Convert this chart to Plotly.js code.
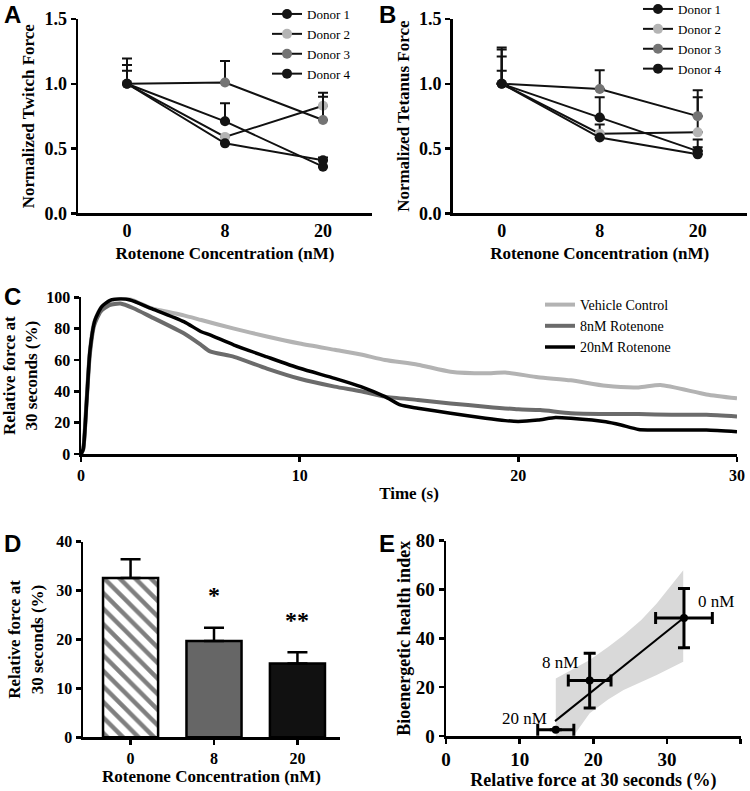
<!DOCTYPE html>
<html>
<head>
<meta charset="utf-8">
<script src="https://cdn.plot.ly/plotly-3.0.1.min.js"></script>
<style>
  body { margin: 0; background: #fff; }
  #fig { width: 750px; height: 791px; }
</style>
</head>
<body>
<div id="fig"></div>
<script>
// A + B: force per donor, normalised to the 0 nM value
var concLabels = ['0', '8', '20'];
var donors = ['Donor 1', 'Donor 2', 'Donor 3', 'Donor 4'];
var donorColors = ['#141414', '#b4b4b4', '#747474', '#141414'];
var twitch = [[1, 0.71, 0.36], [1, 0.59, 0.83], [1, 1.01, 0.72], [1, 0.54, 0.41]];
var twitchErr = [[0.145, 0.14, 0], [0.195, 0, 0.10], [0.10, 0.165, 0.18], [0, 0, 0.02]];
var tetanus = [[1, 0.74, 0.48], [1, 0.615, 0.625], [1, 0.96, 0.75], [1, 0.585, 0.455]];
var tetanusErr = [[0.21, 0.155, 0.09], [0.265, 0.07, 0.27], [0.28, 0.145, 0.20], [0.10, 0, 0.055]];

// C: fatigue traces (relative force, %)
var vehT = [0, 0.1, 0.25, 0.4, 0.6, 0.9, 1.3, 1.8, 2.3, 3.2, 4.7, 5.5, 7.0, 8.5, 10.0, 11.6, 12.8, 13.9, 15.4, 16.9, 18.5, 19.4, 20.9, 22.4, 24.0, 25.5, 26.5, 28.6, 30.0];
var vehF = [0, 3, 33, 65, 84, 93, 97.5, 99, 98.5, 93, 88.5, 85.5, 80, 75, 70.5, 66.5, 63.5, 60, 57, 52.5, 51.5, 52, 49, 47, 43.5, 42.5, 44, 38, 35.5];
var rot8T = [0, 0.1, 0.25, 0.4, 0.6, 0.9, 1.3, 1.8, 2.4, 3.2, 4.7, 5.5, 5.9, 7.0, 8.5, 10.0, 11.6, 12.8, 13.9, 15.4, 16.9, 18.5, 20.0, 21.0, 22.4, 24.0, 25.5, 27.0, 28.6, 30.0];
var rot8F = [0, 3, 32, 63, 82, 91, 95, 96, 93, 87.5, 77, 69.5, 65.5, 62, 54.5, 48, 43, 40, 36.6, 34.5, 32.3, 30.2, 28.5, 28, 26, 25.5, 25.5, 25, 25, 24];
var rot20T = [0, 0.1, 0.26, 0.41, 0.64, 0.95, 1.33, 1.79, 2.25, 3.2, 4.7, 5.5, 5.9, 7.0, 8.5, 10.0, 11.6, 12.8, 13.9, 14.6, 15.4, 16.9, 18.5, 19.4, 20.0, 20.9, 21.7, 22.4, 24.0, 24.7, 25.5, 27.0, 28.6, 30.0];
var rot20F = [0, 3, 34, 66, 85.5, 94, 98, 99, 98.3, 93, 84.5, 78, 76, 69.5, 62, 54.7, 48.3, 43, 36.6, 31.3, 29.2, 26, 22.8, 21.3, 20.8, 21.7, 23.3, 22.8, 20.6, 18.5, 15.7, 15.3, 15.3, 14.2];

// D: relative force at 30 s
var barMeans = [32.6, 19.7, 15.1];
var barSem = [3.8, 2.7, 2.3];
var barColors = ['#ffffff', '#666666', '#111111'];
var barStars = ['', '*', '**'];
var starY = [0, 29, 24];

// E: bioenergetic health index vs relative force
var eLabels = ['0 nM', '8 nM', '20 nM'];
var eForce = [32.3, 19.5, 14.9];
var eForceErr = [3.85, 2.9, 2.45];
var eBhi = [48.3, 22.7, 2.6];
var eBhiErr = [12.1, 11.2, 0];
var fitX = [14.8, 32.2];
var fitY = [6.1, 48.2];
var bandX = [14.9, 17.3, 19.5, 22.0, 24.1, 26.5, 28.6, 32.2];
var bandUp = [23.6, 27.4, 31.1, 36.5, 41.3, 47.5, 54.3, 67.9];
var bandLo = [-1, 0, 9.3, 15, 18.8, 22.2, 25.0, 30.4];

var W = 750, H = 791;
var SERIF = 'Liberation Serif, Times New Roman, serif';
function xd(l, r) { return [l / W, r / W]; }
function yd(top, bottom) { return [1 - bottom / H, 1 - top / H]; }

function axis(extra, tickSize) {
  var a = {
    showline: true, linecolor: '#000', linewidth: 2.5,
    ticks: 'outside', ticklen: 5, tickwidth: 2.5, tickcolor: '#000',
    showgrid: false, zeroline: false, fixedrange: true,
    tickfont: { family: SERIF, size: tickSize || 18, weight: 'bold', color: '#000' }
  };
  return Object.assign(a, extra);
}
function ttl(text, size, standoff) {
  return { text: text, font: { family: SERIF, size: size, weight: 'bold', color: '#000' }, standoff: standoff };
}

var traces = [];

function donorTraces(vals, errs, xa, ya, leg) {
  donors.forEach(function (name, i) {
    traces.push({
      type: 'scatter', mode: 'lines+markers', name: name,
      x: [0, 1, 2], y: vals[i], xaxis: xa, yaxis: ya, legend: leg,
      line: { color: '#111', width: 2 },
      marker: { color: donorColors[i], size: 10 },
      error_y: { type: 'data', symmetric: false, array: errs[i], arrayminus: [0, 0, 0], color: '#111', thickness: 2, width: 5 },
      cliponaxis: false, hoverinfo: 'skip'
    });
  });
}
donorTraces(twitch, twitchErr, 'x', 'y', 'legend');
donorTraces(tetanus, tetanusErr, 'x2', 'y2', 'legend2');

[['Vehicle Control', vehT, vehF, '#b3b3b3', 4],
 ['8nM Rotenone', rot8T, rot8F, '#6b6b6b', 4],
 ['20nM Rotenone', rot20T, rot20F, '#000000', 3.5]].forEach(function (s) {
  traces.push({
    type: 'scatter', mode: 'lines', name: s[0], x: s[1], y: s[2],
    xaxis: 'x3', yaxis: 'y3', legend: 'legend3',
    line: { color: s[3], width: s[4], shape: 'spline', smoothing: 0.6 },
    hoverinfo: 'skip'
  });
});

// one bar trace per concentration so the hatch applies to the vehicle bar only
barMeans.forEach(function (m, i) {
  var marker = { color: barColors[i], line: { color: '#000', width: 2.5 } };
  if (i === 0) marker.pattern = { shape: '\\', fgcolor: '#000', bgcolor: '#ffffff', size: 11, solidity: 0.4, fillmode: 'overlay' };
  traces.push({
    type: 'bar', x: [i], y: [m], xaxis: 'x4', yaxis: 'y4', width: 0.66,
    showlegend: false, marker: marker,
    error_y: { type: 'data', symmetric: false, array: [barSem[i]], arrayminus: [0], color: '#000', thickness: 2.5, width: 10 },
    hoverinfo: 'skip'
  });
});

traces.push({
  type: 'scatter', mode: 'lines', xaxis: 'x5', yaxis: 'y5', showlegend: false,
  x: bandX.concat(bandX.slice().reverse()),
  y: bandUp.concat(bandLo.slice().reverse()),
  fill: 'toself', fillcolor: '#d9d9d9', line: { width: 0 }, hoverinfo: 'skip'
});
traces.push({
  type: 'scatter', mode: 'lines', x: fitX, y: fitY, xaxis: 'x5', yaxis: 'y5',
  showlegend: false, line: { color: '#000', width: 2 }, hoverinfo: 'skip'
});
traces.push({
  type: 'scatter', mode: 'markers', x: eForce, y: eBhi, xaxis: 'x5', yaxis: 'y5',
  showlegend: false, marker: { color: '#000', size: 8 },
  error_x: { type: 'data', array: eForceErr, color: '#000', thickness: 3, width: 6 },
  error_y: { type: 'data', array: eBhiErr, color: '#000', thickness: 3, width: 6 },
  cliponaxis: false, hoverinfo: 'skip'
});

var catAxis = { range: [-0.5, 2.5], tickvals: [0, 1, 2], ticktext: concLabels, ticks: '' };

var annotations = [
  { text: 'A', x: 12 / W, y: 1 - 15 / H },
  { text: 'B', x: 387 / W, y: 1 - 14 / H },
  { text: 'C', x: 12 / W, y: 1 - 297 / H },
  { text: 'D', x: 12 / W, y: 1 - 543 / H },
  { text: 'E', x: 387 / W, y: 1 - 543 / H }
].map(function (a) {
  return Object.assign(a, { xref: 'paper', yref: 'paper', showarrow: false, xanchor: 'center', yanchor: 'middle',
    font: { family: 'Liberation Sans, Arial, sans-serif', size: 24, weight: 'bold', color: '#000' } });
});
barStars.forEach(function (s, i) {
  if (!s) return;
  annotations.push({ text: s, x: i, y: starY[i], xref: 'x4', yref: 'y4', showarrow: false,
    font: { family: SERIF, size: 24, weight: 'bold', color: '#000' } });
});
var eLabelPos = [[36.6, 55], [15.5, 30], [10.7, 7]];
eLabels.forEach(function (t, i) {
  annotations.push({ text: t, x: eLabelPos[i][0], y: eLabelPos[i][1], xref: 'x5', yref: 'y5', showarrow: false,
    font: { family: SERIF, size: 17, color: '#000' } });
});

function leg(xpx, ypx, size) {
  return { x: xpx / W, y: 1 - ypx / H, xanchor: 'left', yanchor: 'top',
    font: { family: SERIF, size: size, color: '#000' },
    bgcolor: 'rgba(0,0,0,0)', tracegroupgap: 0 };
}

var layout = {
  width: W, height: H,
  margin: { l: 0, r: 0, t: 0, b: 0, autoexpand: false },
  paper_bgcolor: '#fff', plot_bgcolor: 'rgba(0,0,0,0)',
  showlegend: true,
  xaxis: axis(Object.assign({ domain: xd(78, 372), anchor: 'y', title: ttl('Rotenone Concentration (nM)', 17, 7) }, catAxis)),
  yaxis: axis({ domain: yd(19, 213.3), anchor: 'x', range: [0, 1.5], tickvals: [0, 0.5, 1, 1.5], tickformat: '.1f',
    title: ttl('Normalized Twitch Force', 17, 6) }),
  xaxis2: axis(Object.assign({ domain: xd(452.7, 746.7), anchor: 'y2', title: ttl('Rotenone Concentration (nM)', 17, 7) }, catAxis)),
  yaxis2: axis({ domain: yd(19, 213.3), anchor: 'x2', range: [0, 1.5], tickvals: [0, 0.5, 1, 1.5], tickformat: '.1f',
    title: ttl('Normalized Tetanus Force', 17, 5) }),
  xaxis3: axis({ domain: xd(81, 737), anchor: 'y3', range: [0, 30], tickvals: [0, 10, 20, 30], title: ttl('Time (s)', 17, 5) }, 16),
  yaxis3: axis({ domain: yd(297.3, 454), anchor: 'x3', range: [0, 100], tickvals: [0, 20, 40, 60, 80, 100],
    title: ttl('Relative force at<br>30 seconds (%)', 17, 9) }, 16),
  xaxis4: axis({ domain: xd(83, 340), anchor: 'y4', range: [-0.57, 2.51], tickvals: [0, 1, 2], ticktext: concLabels,
    title: ttl('Rotenone Concentration (nM)', 17, 1) }, 16),
  yaxis4: axis({ domain: yd(541.7, 737.3), anchor: 'x4', range: [0, 40], tickvals: [0, 10, 20, 30, 40],
    title: ttl('Relative force at<br>30 seconds (%)', 17, 9) }, 16),
  xaxis5: axis({ domain: xd(446, 740.7), anchor: 'y5', range: [0, 40], tickvals: [0, 10, 20, 30, 40],
    title: ttl('Relative force at 30 seconds (%)', 18, 3) }, 19),
  yaxis5: axis({ domain: yd(540.7, 736), anchor: 'x5', range: [0, 80], tickvals: [0, 20, 40, 60, 80],
    title: ttl('Bioenergetic health index', 18, 1) }, 19),
  legend: leg(267, -1, 13),
  legend2: leg(638, -6, 13),
  legend3: leg(540, 289, 14),
  annotations: annotations
};

Plotly.newPlot('fig', traces, layout, { displayModeBar: false, staticPlot: true });
</script>
</body>
</html>
